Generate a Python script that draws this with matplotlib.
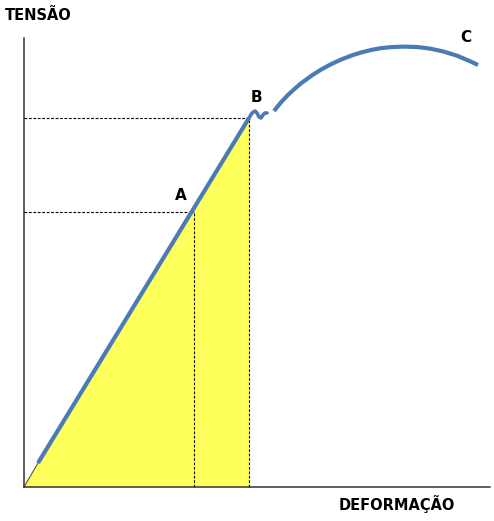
import matplotlib
matplotlib.use("Agg")
import matplotlib.pyplot as plt

# Data (deformation units, tension units)
origin = (0, 0)
point_A = (170, 275)
point_B = (225, 369)
elastic_start = (14, 24)
# yield wiggle just after B
wiggle_x = [225, 228, 231, 233, 235, 237, 239, 241, 243]
wiggle_y = [369, 374, 376, 374, 370, 369, 372, 374, 374]
# plastic curve up to C
plastic_x = [250, 257, 264, 271, 277, 287, 297, 307, 317, 327, 337, 347, 356,
             366, 379, 393, 406, 419, 433, 446, 454]
plastic_y = [376, 384.7, 392.1, 398.5, 403.6, 411, 417.4, 422.8, 427.4, 431.3,
             434.5, 437, 438.7, 439.8, 440.4, 440, 438.4, 435.6, 431.3, 425.8, 422]
labels = {"A": (157, 291), "B": (232, 389), "C": (442, 449)}
x_label = "DEFORMAÇÃO"
y_label = "TENSÃO"

blue = "#4A7BB7"
yellow = "#FFFF5C"

fig = plt.figure(figsize=(4.94, 5.21), dpi=100)
ax = fig.add_axes([0, 0, 1, 1])
ax.set_xlim(-24, 470)
ax.set_ylim(-34, 487)
ax.axis("off")

# yellow triangle (energy area)
ax.fill([origin[0], point_B[0], point_B[0]], [origin[1], origin[1], point_B[1]],
        color=yellow, zorder=1, lw=0)
ax.plot([origin[0], elastic_start[0]], [origin[1], elastic_start[1]],
        color="#555533", lw=0.8, zorder=2)

# axes
ax.plot([0, 0], [0, 449], color="#333333", lw=1.1, zorder=3)
ax.plot([0, 466], [0, 0], color="#333333", lw=1.1, zorder=3)

# dashed guides
dash = dict(color="black", lw=0.8, ls=(0, (2.5, 1.5)), zorder=3)
ax.plot([0, point_B[0]], [point_B[1], point_B[1]], **dash)
ax.plot([point_B[0], point_B[0]], [0, point_B[1]], **dash)
ax.plot([0, point_A[0]], [point_A[1], point_A[1]], **dash)
ax.plot([point_A[0], point_A[0]], [0, point_A[1]], **dash)

# curve
ax.plot([elastic_start[0], point_B[0]], [elastic_start[1], point_B[1]],
        color=blue, lw=3, solid_capstyle="butt", zorder=4)
ax.plot(wiggle_x, wiggle_y, color=blue, lw=2.6, zorder=4,
        solid_joinstyle="round", solid_capstyle="round")
ax.plot(plastic_x, plastic_y, color=blue, lw=3, solid_capstyle="butt",
        solid_joinstyle="round", zorder=4)

for k, (x, y) in labels.items():
    ax.text(x, y, k, fontsize=11, fontweight="bold", family="DejaVu Sans",
            ha="center", va="center")

ax.text(-19, 471, y_label, fontsize=10.5, fontweight="bold", family="DejaVu Sans",
        ha="left", va="center")
ax.text(373, -17, x_label, fontsize=10.5, fontweight="bold", family="DejaVu Sans",
        ha="center", va="center")

fig.savefig("out.png", dpi=100)
